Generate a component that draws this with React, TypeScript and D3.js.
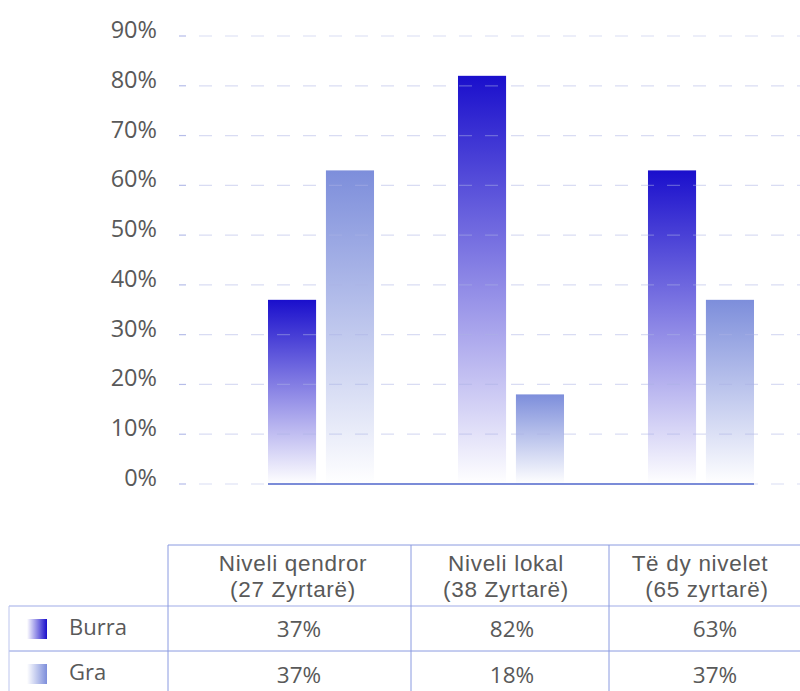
import React from "react";
import * as d3 from "d3";

const categories = ["Niveli qendror", "Niveli lokal", "Të dy nivelet"];
const headerLine1 = ["Niveli qendror", "Niveli lokal", "Të dy nivelet"];
const headerLine2 = ["(27 Zyrtarë)", "(38 Zyrtarë)", "(65 zyrtarë)"];
const seriesNames = ["Burra", "Gra"];
const burra = [0.37, 0.82, 0.63];
const gra = [0.63, 0.18, 0.37];
const tableBurra = ["37%", "82%", "63%"];
const tableGra = ["37%", "18%", "37%"];
const yTicks = [0, 0.1, 0.2, 0.3, 0.4, 0.5, 0.6, 0.7, 0.8, 0.9];

const W = 800;
const H = 691;
const TEXT = "#595959";
const FONT = "'Open Sans', 'Liberation Sans', Arial, sans-serif";
const HEADER_FONT = "'Liberation Sans', Arial, sans-serif";
const seriesColors = ["#1a0fcc", "#7d8edb"];

// table layout (pixels)
const colEdges = [168, 411, 609, 820];
const header1X = [293, 506, 700];
const header2X = [293, 506, 707];
const valueX = [299, 512, 715];

export default function App() {
  const y = d3.scaleLinear().domain([0, 0.9]).range([484, 36]);
  const x0 = d3
    .scaleBand<string>()
    .domain(categories)
    .range([268, 754])
    .paddingInner(0.442)
    .paddingOuter(0);
  const x1 = d3
    .scaleBand<string>()
    .domain(seriesNames)
    .range([0, x0.bandwidth()])
    .paddingInner(0.17)
    .paddingOuter(0);
  const values = [burra, gra];

  const tableTop = 545;
  const row1 = 606;
  const row2 = 651;
  const gridLine = "#8a9ae0";

  const dashPath = (yy: number) => `M199,${yy}H800`;

  return (
    <svg
      width={W}
      height={H}
      style={{ position: "absolute", left: 0, top: 0, display: "block", background: "#fff" }}
      fontFamily={FONT}
    >
      <defs>
        {seriesNames.map((s, i) => (
          <linearGradient key={s} id={`bar-${i}`} x1="0" y1="0" x2="0" y2="1">
            <stop offset="0%" stopColor={seriesColors[i]} stopOpacity={1} />
            <stop offset="100%" stopColor={seriesColors[i]} stopOpacity={0} />
          </linearGradient>
        ))}
        {seriesNames.map((s, i) => (
          <linearGradient key={s} id={`leg-${i}`} x1="0" y1="0" x2="1" y2="0">
            <stop offset="0%" stopColor={seriesColors[i]} stopOpacity={0} />
            <stop offset="100%" stopColor={seriesColors[i]} stopOpacity={1} />
          </linearGradient>
        ))}
      </defs>

      {/* bars */}
      {categories.map((c, ci) =>
        seriesNames.map((s, si) => {
          const v = values[si][ci];
          return (
            <rect
              key={c + s}
              x={(x0(c) ?? 0) + (x1(s) ?? 0)}
              y={y(v)}
              width={x1.bandwidth()}
              height={y(0) - y(v)}
              fill={`url(#bar-${si})`}
            />
          );
        })
      )}

      {/* gridlines */}
      {yTicks.map((t) => (
        <g key={t}>
          <line x1={179} x2={186} y1={y(t)} y2={y(t)} stroke="#b6bde9" strokeWidth={1.2} />
          <path
            d={dashPath(y(t))}
            stroke="rgba(170,178,228,0.45)"
            strokeWidth={1.2}
            strokeDasharray="13 13"
          />
          <text x={157} y={y(t) + 2} textAnchor="end" fontSize={23.5} fill={TEXT}>
            {d3.format(".0%")(t)}
          </text>
        </g>
      ))}

      {/* baseline */}
      <line
        x1={x0(categories[0])}
        x2={(x0(categories[categories.length - 1]) ?? 0) + x0.bandwidth()}
        y1={y(0)}
        y2={y(0)}
        stroke="#7b8cd8"
        strokeWidth={2}
      />

      {/* table lines */}
      <line x1={colEdges[0]} x2={W} y1={tableTop} y2={tableTop} stroke={gridLine} strokeWidth={1} />
      <line x1={9} x2={W} y1={row1} y2={row1} stroke="#cfd5f3" strokeWidth={2} />
      <line x1={9} x2={W} y1={row2} y2={row2} stroke={gridLine} strokeWidth={1} />
      <line x1={9} x2={9} y1={row1} y2={H} stroke="#bcc5ee" strokeWidth={1} />
      {colEdges.slice(0, 3).map((e) => (
        <line key={e} x1={e} x2={e} y1={tableTop} y2={H} stroke={gridLine} strokeWidth={1} />
      ))}

      {/* headers and values */}
      {categories.map((c, i) => (
        <g key={c} fontSize={22.5} fill={TEXT} textAnchor="middle">
          <text x={header1X[i]} y={571} fontFamily={HEADER_FONT} letterSpacing={0.7}>
            {headerLine1[i]}
          </text>
          <text x={header2X[i]} y={597} fontFamily={HEADER_FONT} letterSpacing={0.7}>
            {headerLine2[i]}
          </text>
          <text x={valueX[i]} y={637}>{tableBurra[i]}</text>
          <text x={valueX[i]} y={683}>{tableGra[i]}</text>
        </g>
      ))}

      {/* row labels with legend swatches */}
      {seriesNames.map((s, i) => {
        const top = i === 0 ? 619 : 664;
        return (
          <g key={s}>
            <rect x={27} y={top} width={20} height={20} fill={`url(#leg-${i})`} />
            <text x={69} y={top + 16} fontSize={22} fill={TEXT}>
              {s}
            </text>
          </g>
        );
      })}
    </svg>
  );
}
